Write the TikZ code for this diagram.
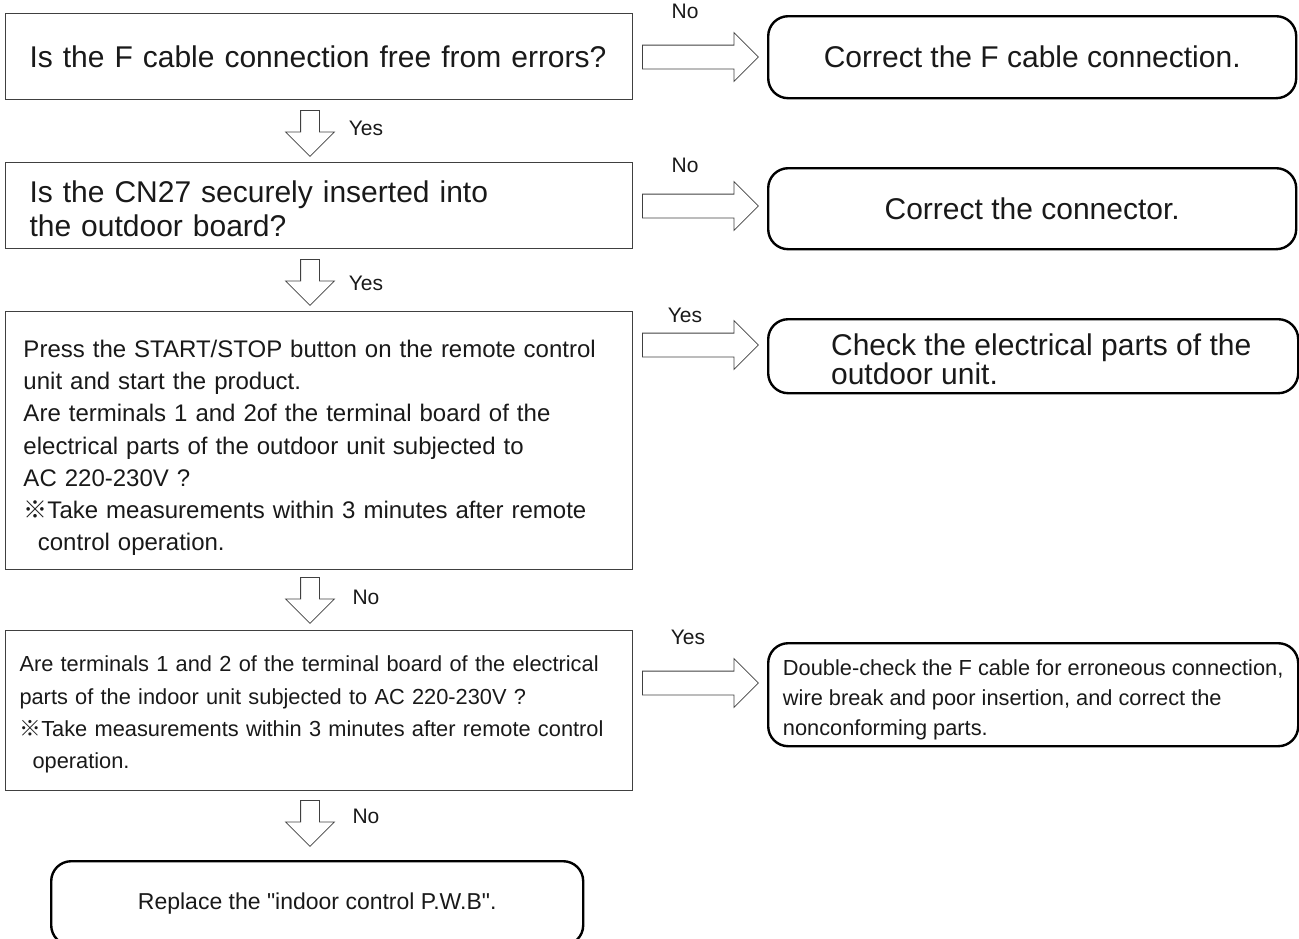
\documentclass[tikz,border=0pt]{standalone}
\usepackage{fontspec}
\setmainfont{Liberation Sans}
\newfontfamily\cjkfont{Noto Sans CJK JP}
\usetikzlibrary{shapes.arrows}

\newcommand{\refmark}{{\cjkfont ※}}
\newcommand{\bigtxt}{\fontsize{15}{17}\selectfont}

\begin{document}
\begin{tikzpicture}[x=0.5pt, y=-0.5pt,
  check/.style={draw=black!75, line width=0.5pt, anchor=north west, align=left, inner ysep=0pt, text=black!90},
  remedy/.style={draw=black, line width=1.2pt, rounded corners=10pt, anchor=north west, inner ysep=0pt, text=black!90},
  hollowr/.style={single arrow, draw=black!75, line width=0.4pt, anchor=tail, inner xsep=0pt, inner ysep=5.75pt, single arrow head extend=6.25pt, minimum height=58pt, minimum width=1pt},
  hollowd/.style={hollowr, shape border rotate=270, inner xsep=4.5pt, inner ysep=0pt, single arrow head extend=7.5pt, minimum height=23pt},
  ans/.style={font=\fontsize{10.5}{12}\selectfont, text=black!90}
]
\useasboundingbox (0,0) rectangle (1299,938);

% checks on the left
\node[check, text width=289.5pt, inner xsep=12pt, minimum height=43pt, font=\bigtxt] (q1) at (5,13)
  {Is the F cable connection free from errors?};
\node[check, text width=289.5pt, inner xsep=12pt, minimum height=43pt, font=\bigtxt] (q2) at (5,162)
  {\rule{0pt}{14pt}Is the CN27 securely inserted into\\ the outdoor board?};
\node[check, text width=295.5pt, inner xsep=9pt, minimum height=129pt, font=\fontsize{12}{16.1}\selectfont] (q3) at (5,311)
  {\rule{0pt}{16pt}Press the START/STOP button on the remote control\\ unit and start the product.\\ Are terminals 1 and 2of the terminal board of the\\ electrical parts of the outdoor unit subjected to\\ AC 220-230V ?\\ \refmark Take measurements within 3 minutes after remote\\ \hspace*{0.6em}control operation.};
\node[check, text width=299.5pt, inner xsep=7pt, minimum height=80pt, font=\fontsize{10.9}{16.2}\selectfont] (q4) at (5,630)
  {\rule{0pt}{12pt}Are terminals 1 and 2 of the terminal board of the electrical\\ parts of the indoor unit subjected to AC 220-230V ?\\ \refmark Take measurements within 3 minutes after remote control\\ \hspace*{0.6em}operation.};

% remedies
\node[remedy, minimum width=264pt, minimum height=41pt, font=\bigtxt] (a1) at (767,15) {Correct the F cable connection.};
\node[remedy, minimum width=264pt, minimum height=40.5pt, font=\bigtxt] (a2) at (767,167) {Correct the connector.};
\node[remedy, minimum width=265pt, minimum height=37pt, align=left, font=\fontsize{15}{14.5}\selectfont] (a3) at (767,318)
  {\hspace*{8pt}\rule{0pt}{14pt}Check the electrical parts of the\\ \hspace*{8pt}outdoor unit.};
\node[remedy, minimum width=265pt, minimum height=51.5pt, align=left, font=\fontsize{10.9}{14.8}\selectfont] (a4) at (767,642)
  {\rule{0pt}{13pt}Double-check the F cable for erroneous connection,\\ wire break and poor insertion, and correct the\\ nonconforming parts.};
\node[remedy, minimum width=266pt, minimum height=42pt, font=\fontsize{11.5}{13}\selectfont] (a5) at (50,860)
  {Replace the \textquotedbl indoor control P.W.B\textquotedbl.};

% hollow arrows
\node[hollowr] (r1) at (642,57) {};
\node[hollowr] (r2) at (642,206) {};
\node[hollowr] (r3) at (642,345) {};
\node[hollowr] (r4) at (642,683) {};
\node[hollowd] (d1) at (310,110) {};
\node[hollowd] (d2) at (310,259) {};
\node[hollowd] (d3) at (310,577) {};
\node[hollowd] (d4) at (310,800) {};

% answers
\node[ans] (r1lbl) at (685,11) {No};
\node[ans] (r2lbl) at (685,165) {No};
\node[ans] (r3lbl) at (685,315) {Yes};
\node[ans] (r4lbl) at (688,637) {Yes};
\node[ans] (d1lbl) at (366,128) {Yes};
\node[ans] (d2lbl) at (366,283) {Yes};
\node[ans] (d3lbl) at (366,597) {No};
\node[ans] (d4lbl) at (366,816) {No};
\end{tikzpicture}
\end{document}
